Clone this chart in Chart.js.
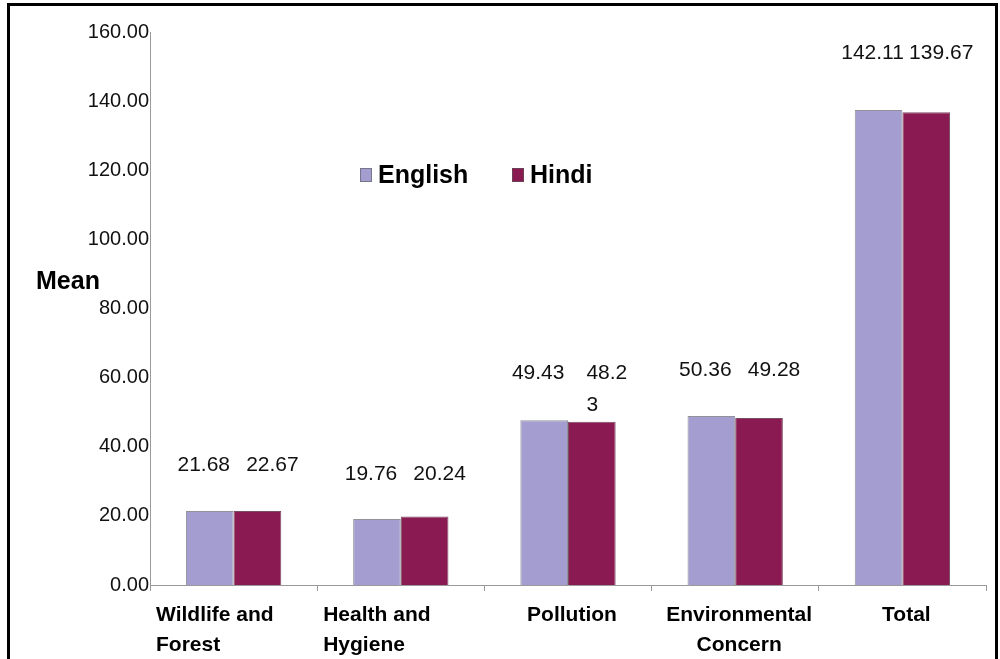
<!DOCTYPE html>
<html>
<head>
<meta charset="utf-8">
<script src="https://cdn.jsdelivr.net/npm/chart.js@4"></script>
<style>
  html, body { margin: 0; padding: 0; background: #fff; }
  #wrap { position: relative; width: 1000px; height: 659px; overflow: hidden; background: #fff; }
  #frame { position: absolute; left: 7px; top: 3px; width: 991px; height: 700px; border: 3px solid #000; box-sizing: border-box; pointer-events: none; }
  canvas { position: absolute; left: 0; top: 0; }
</style>
</head>
<body>
<div id="wrap">
  <canvas id="c" width="1000" height="659"></canvas>
  <div id="frame"></div>
</div>
<script>
// ---- data ----
const categories = [["Wildlife and", "Forest"], ["Health and", "Hygiene"], ["Pollution"], ["Environmental", "Concern"], ["Total"]];
const seriesNames = ["English", "Hindi"];
const englishValues = [21.4, 19.1, 47.7, 48.9, 137.4];
const hindiValues = [21.4, 19.8, 47.2, 48.3, 136.8];
const englishLabels = ["21.68", "19.76", "49.43", "50.36", "142.11"];
const hindiLabels = ["22.67", "20.24", "48.2\n3", "49.28", "139.67"];
const yTicks = { min: 0, max: 160, step: 20 };
const yTitle = "Mean";

// ---- styles ----
const colors = ["#A49ED0", "#8A1A52"];
const catAlign = ["left", "left", "center", "center", "center"];
const FONT = "'Liberation Sans', Arial, Helvetica, sans-serif";

const overlay = {
  id: 'overlay',
  afterDraw(chart) {
    const ctx = chart.ctx;
    const xs = chart.scales.x, ys = chart.scales.y;
    const area = chart.chartArea;
    ctx.save();
    // category labels
    ctx.fillStyle = '#000';
    ctx.font = 'bold 21px ' + FONT;
    ctx.textBaseline = 'middle';
    const catW = (area.right - area.left) / categories.length;
    categories.forEach((lines, i) => {
      const cx = xs.getPixelForValue(i);
      lines.forEach((t, k) => {
        const y = area.bottom + 30 + k * 30;
        if (catAlign[i] === 'left') {
          ctx.textAlign = 'left';
          ctx.fillText(t, cx - catW / 2 + 6, y);
        } else {
          ctx.textAlign = 'center';
          ctx.fillText(t, cx + 4, y);
        }
      });
    });
    // data labels
    ctx.font = '21px ' + FONT;
    ctx.fillStyle = '#111';
    const labelSets = [englishLabels, hindiLabels];
    const dx = [-6, 15];
    labelSets.forEach((labs, di) => {
      const meta = chart.getDatasetMeta(di);
      meta.data.forEach((el, j) => {
        const top = Math.max(parseFloat(englishLabels[j]), parseFloat(hindiLabels[j]));
        const y = ys.getPixelForValue(top) - 41;
        const lines = labs[j].split('\n');
        const w = ctx.measureText(lines[0]).width;
        const left = el.x + dx[di] - w / 2;
        ctx.textAlign = 'left';
        lines.forEach((t, k) => ctx.fillText(t, left, y + k * 32));
      });
    });
    // y title
    ctx.font = 'bold 25px ' + FONT;
    ctx.fillStyle = '#000';
    ctx.textAlign = 'left';
    ctx.fillText(yTitle, 36, 282);
    // legend
    const legX = [360, 512];
    seriesNames.forEach((n, i) => {
      ctx.fillStyle = colors[i];
      ctx.fillRect(legX[i], 168, 12, 14);
      ctx.strokeStyle = 'rgba(90,90,90,0.6)';
      ctx.lineWidth = 1;
      ctx.strokeRect(legX[i] + 0.5, 168.5, 11, 13);
      ctx.fillStyle = '#000';
      ctx.font = 'bold 25px ' + FONT;
      ctx.fillText(n, legX[i] + 18, 176);
    });
    ctx.restore();
  }
};

new Chart(document.getElementById('c'), {
  type: 'bar',
  data: {
    labels: categories,
    datasets: [
      { label: seriesNames[0], data: englishValues, backgroundColor: colors[0], borderColor: 'rgba(100,100,110,0.7)', borderWidth: 1, categoryPercentage: 0.57, barPercentage: 1.0 },
      { label: seriesNames[1], data: hindiValues, backgroundColor: colors[1], borderColor: 'rgba(90,30,60,0.8)', borderWidth: 1, categoryPercentage: 0.57, barPercentage: 1.0 }
    ]
  },
  options: {
    responsive: false,
    animation: false,
    layout: { padding: { left: 0, right: 14, top: 32, bottom: 0 } },
    plugins: { legend: { display: false }, tooltip: { enabled: false } },
    scales: {
      x: {
        offset: true,
        grid: { display: true, offset: true, drawOnChartArea: false, drawTicks: true, tickLength: 6, color: '#9a9a9a' },
        border: { display: true, color: '#9a9a9a', width: 1 },
        ticks: { display: false },
        afterFit: s => { s.height = 74; }
      },
      y: {
        min: yTicks.min, max: yTicks.max,
        grid: { display: false, drawTicks: false },
        border: { display: true, color: '#9a9a9a', width: 1 },
        ticks: {
          stepSize: yTicks.step, padding: 1, color: '#111',
          font: { family: FONT, size: 20 },
          callback: v => Number(v).toFixed(2)
        },
        afterFit: s => { s.width = 150; }
      }
    }
  },
  plugins: [overlay]
});
</script>
</body>
</html>
